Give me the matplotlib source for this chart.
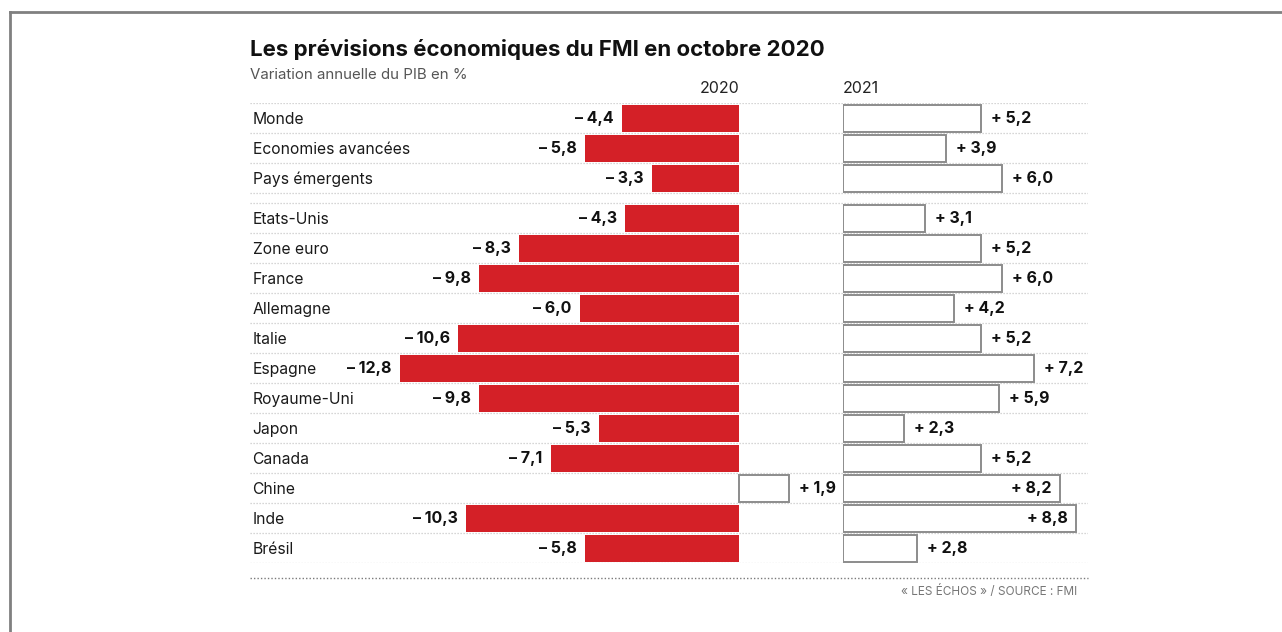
import matplotlib.pyplot as plt
from matplotlib.lines import Line2D

plt.rcParams['font.family'] = ['Inter', 'DejaVu Sans']

pays = ['Monde', 'Economies avancées', 'Pays émergents', 'Etats-Unis', 'Zone euro',
        'France', 'Allemagne', 'Italie', 'Espagne', 'Royaume-Uni', 'Japon', 'Canada',
        'Chine', 'Inde', 'Brésil']
pib_2020 = [-4.4, -5.8, -3.3, -4.3, -8.3, -9.8, -6.0, -10.6, -12.8, -9.8, -5.3, -7.1,
            1.9, -10.3, -5.8]
pib_2021 = [5.2, 3.9, 6.0, 3.1, 5.2, 6.0, 4.2, 5.2, 7.2, 5.9, 2.3, 5.2, 8.2, 8.8, 2.8]

W, H = 1282, 632
S = 26.5          # pixels per point of GDP
Z20, Z21 = 739, 843
ROUGE = '#d42027'
GRIS = '#8c8c8c'


def fx(x):
    return x / W


def fy(y):
    return 1 - y / H


def fmt(v):
    signe = '+' if v >= 0 else '–'
    return f'{signe} {abs(v):.1f}'.replace('.', ',')


fig = plt.figure(figsize=(W / 100, H / 100), dpi=100)

# rows: three aggregates, then a small gap, then the countries
pos = [i + (1 / 3 if i >= 3 else 0) for i in range(len(pays))]
top, bottom = 103, 563
ylim = (pos[-1] + 0.5, -0.5)


def make_ax(x0, x1):
    ax = fig.add_axes([fx(x0), fy(bottom), fx(x1 - x0), (bottom - top) / H])
    ax.set_ylim(*ylim)
    ax.axis('off')
    return ax


bg = make_ax(250, 1088)
bg.set_xlim(0, 1)
lignes = sorted({round(p - 0.5, 3) for p in pos} | {round(p + 0.5, 3) for p in pos})
for y in lignes:
    bg.axhline(y, color='#c9c9c9', lw=0.9, ls=(0, (1, 1.4)))
for p, nom in zip(pos, pays):
    bg.text(0.003, p, nom, va='center_baseline', ha='left', fontsize=11.3, color='#1a1a1a')

ax20 = make_ax(250, 835)
ax20.set_xlim(-(Z20 - 250) / S, (835 - Z20) / S)
ax21 = make_ax(Z21, 1100)
ax21.set_xlim(0, (1100 - Z21) / S)

for ax, vals in ((ax20, pib_2020), (ax21, pib_2021)):
    for p, v in zip(pos, vals):
        if v < 0:
            ax.barh(p, v, height=0.9, color=ROUGE, lw=0)
            ax.annotate(fmt(v), (v, p), xytext=(-6, 0), textcoords='offset points',
                        ha='right', va='center', fontsize=11.5, fontweight='bold',
                        color='#111111')
        else:
            ax.barh(p, v, height=0.9, color='white', edgecolor=GRIS, lw=1.4)
            inside = v > 8
            ax.annotate(fmt(v), (v, p), xytext=(-6 if inside else 7, 0),
                        textcoords='offset points', ha='right' if inside else 'left',
                        va='center', fontsize=11.5, fontweight='bold', color='#111111')

# titles
fig.text(fx(250), fy(56), 'Les prévisions économiques du FMI en octobre 2020',
         fontsize=16, fontweight='bold', color='#111111', va='baseline')
fig.text(fx(250), fy(79), 'Variation annuelle du PIB en %', fontsize=10.8,
         color='#555555', va='baseline')
fig.text(fx(740), fy(93), '2020', fontsize=11.5, color='#222222', ha='right', va='baseline')
fig.text(fx(Z21), fy(93), '2021', fontsize=11.5, color='#222222', ha='left', va='baseline')

# footer
fig.add_artist(Line2D([fx(250), fx(1088)], [fy(578), fy(578)], color='#7a7a7a',
                      lw=1, ls=(0, (1, 1.5))))
fig.text(fx(1077), fy(595), '« LES ÉCHOS » / SOURCE : FMI', fontsize=8.5,
         color='#777777', ha='right', va='baseline')

# frame on the top and left edges
fig.add_artist(Line2D([fx(10), fx(W)], [fy(12), fy(12)], color='#808080', lw=2))
fig.add_artist(Line2D([fx(10), fx(10)], [fy(12), fy(H)], color='#808080', lw=2))

fig.savefig('out.png', dpi=100, facecolor='white')
